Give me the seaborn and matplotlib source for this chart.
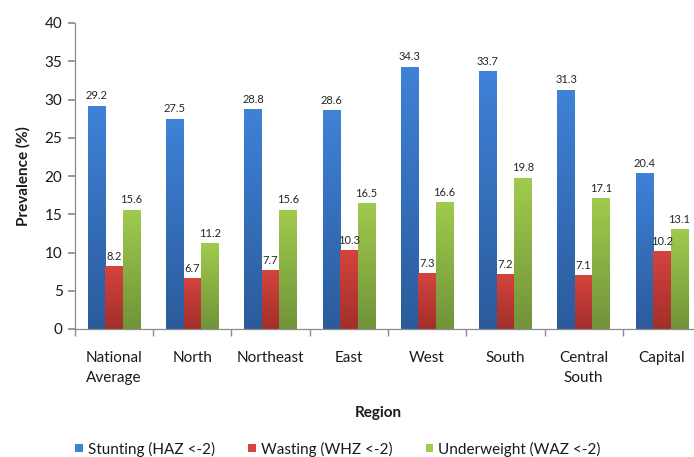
import matplotlib
matplotlib.use("Agg")
import matplotlib.pyplot as plt
import numpy as np
import pandas as pd
import seaborn as sns
from matplotlib.colors import LinearSegmentedColormap
from matplotlib.patches import Patch

regions = ["National\nAverage", "North", "Northeast", "East", "West", "South",
           "Central\nSouth", "Capital"]
series = ["Stunting (HAZ <-2)", "Wasting (WHZ <-2)", "Underweight (WAZ <-2)"]
stunting = [29.2, 27.5, 28.8, 28.6, 34.3, 33.7, 31.3, 20.4]
wasting = [8.2, 6.7, 7.7, 10.3, 7.3, 7.2, 7.1, 10.2]
underweight = [15.6, 11.2, 15.6, 16.5, 16.6, 19.8, 17.1, 13.1]

# top / bottom shades for each series' gradient fill
tops = ["#3f82d8", "#d6433d", "#a0cb4d"]
bottoms = ["#2b5b9b", "#a12f2b", "#71933a"]

df = pd.DataFrame({
    "Region": regions * 3,
    "Series": [s for s in series for _ in regions],
    "Value": stunting + wasting + underweight,
})

sns.set_theme(style="white")
plt.rcParams["font.family"] = ["Lato", "DejaVu Sans"]

fig = plt.figure(figsize=(6.94, 4.57), dpi=100)
W, H = 694, 457
ax = fig.add_axes([75 / W, (H - 329) / H, (701 - 75) / W, (329 - 23) / H])

sns.barplot(data=df, x="Region", y="Value", hue="Series", order=regions,
            hue_order=series, palette=tops, width=0.67, gap=0, saturation=1,
            legend=False, ax=ax)

ax.set_ylim(0, 40)
ax.set_xlim(-0.5, len(regions) - 0.5)
ax.set_yticks(range(0, 41, 5))

# vertical gradient inside each bar
grad = np.linspace(1, 0, 256).reshape(-1, 1)
for i, container in enumerate(ax.containers):
    cmap = LinearSegmentedColormap.from_list(f"g{i}", [bottoms[i], tops[i]])
    for bar in container:
        x0, y0 = bar.get_x(), bar.get_y()
        w, h = bar.get_width(), bar.get_height()
        bar.set_facecolor("none")
        bar.set_edgecolor("none")
        im = ax.imshow(grad, cmap=cmap, vmin=0, vmax=1, aspect="auto",
                       extent=(x0, x0 + w, y0, y0 + h), zorder=2,
                       interpolation="bilinear")
        im.set_clip_path(bar)
    ax.bar_label(container, fmt="%.1f", padding=3, fontsize=8, color="#262626")
ax.set_xlim(-0.5, len(regions) - 0.5)
ax.set_ylim(0, 40)

for s in ["top", "right"]:
    ax.spines[s].set_visible(False)
for s in ["left", "bottom"]:
    ax.spines[s].set_color("#8c8c8c")
    ax.spines[s].set_linewidth(0.9)

ax.set_xticks(np.arange(len(regions)))
ax.set_xticklabels(regions, fontsize=11, color="#1a1a1a", linespacing=1.5)
ax.set_xticks(np.arange(len(regions) + 1) - 0.5, minor=True)
ax.tick_params(axis="x", which="major", length=0, pad=16)
ax.tick_params(axis="x", which="minor", length=5, color="#8c8c8c", direction="out",
               bottom=True)
ax.tick_params(axis="y", length=5, color="#8c8c8c", direction="out", left=True,
               labelsize=11, labelcolor="#1a1a1a", pad=4)
for lbl in ax.get_xticklabels():
    lbl.set_verticalalignment("top")

ax.set_xlabel("")
ax.set_ylabel("Prevalence (%)", fontsize=11, fontweight="bold", color="#1a1a1a",
              labelpad=10)

fig.text(378 / W, 1 - 413 / H, "Region", fontsize=11, fontweight="bold",
         color="#1a1a1a", ha="center", va="center")

handles = [Patch(facecolor=c, edgecolor="none") for c in tops]
fig.legend(handles, series, loc="center", bbox_to_anchor=(338 / W, 1 - 449 / H),
           ncol=3, frameon=False, fontsize=11, handlelength=0.5, handleheight=0.5,
           handletextpad=0.3, columnspacing=2.2, labelcolor="#1a1a1a")

fig.savefig("out.png", dpi=100)
